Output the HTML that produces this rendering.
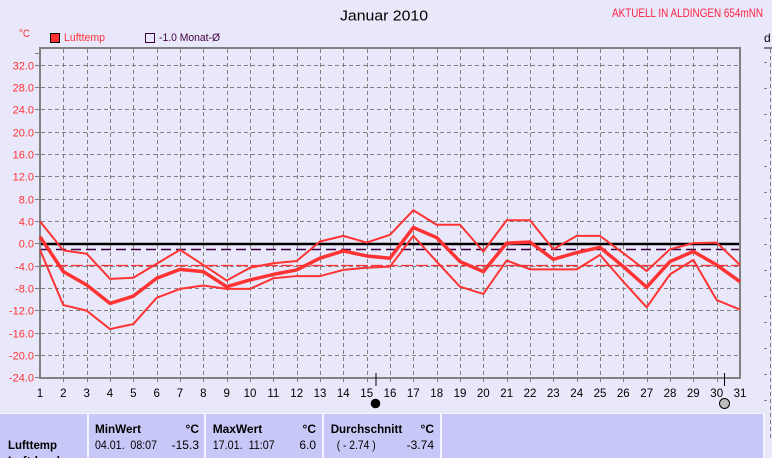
<!DOCTYPE html>
<html><head><meta charset="utf-8"><style>
html,body{margin:0;padding:0;background:#E8E8FA;}
svg{display:block;font-family:"Liberation Sans",sans-serif;}
</style></head><body>
<svg width="772" height="458" viewBox="0 0 772 458" xmlns="http://www.w3.org/2000/svg">
<rect x="0" y="0" width="772" height="458" fill="#E8E8FA"/>
<!-- header -->
<text x="340" y="20.5" font-size="15" fill="#000" textLength="88" lengthAdjust="spacingAndGlyphs">Januar 2010</text>
<text x="612" y="17" font-size="11.5" fill="#FF2040" textLength="151" lengthAdjust="spacingAndGlyphs">AKTUELL IN ALDINGEN 654mNN</text>
<text x="19" y="37" font-size="11" fill="#FF3333" textLength="11" lengthAdjust="spacingAndGlyphs">°C</text>
<rect x="50.5" y="33.5" width="9" height="9" fill="#FF3333" stroke="#000" stroke-width="1"/>
<text x="64" y="41" font-size="11" fill="#FF3333" textLength="41" lengthAdjust="spacingAndGlyphs">Lufttemp</text>
<rect x="145.5" y="33.5" width="9" height="9" fill="none" stroke="#400040" stroke-width="1"/>
<text x="159" y="41" font-size="11" fill="#400040" textLength="61" lengthAdjust="spacingAndGlyphs">-1.0 Monat-Ø</text>

<!-- grid -->
<g stroke="#808080" stroke-width="1" stroke-dasharray="4 3" fill="none">
<path d="M41 65.5H739M41 87.5H739M41 109.5H739M41 132.5H739M41 154.5H739M41 176.5H739M41 199.5H739M41 221.5H739M41 266.5H739M41 288.5H739M41 310.5H739M41 333.5H739M41 355.5H739"/>
<path d="M63.5 49V377M87.5 49V377M110.5 49V377M133.5 49V377M157.5 49V377M180.5 49V377M203.5 49V377M227.5 49V377M250.5 49V377M273.5 49V377M297.5 49V377M320.5 49V377M343.5 49V377M367.5 49V377M390.5 49V377M413.5 49V377M437.5 49V377M460.5 49V377M483.5 49V377M507.5 49V377M530.5 49V377M553.5 49V377M577.5 49V377M600.5 49V377M623.5 49V377M647.5 49V377M670.5 49V377M693.5 49V377M717.5 49V377"/>
</g>
<!-- axis ticks -->
<g stroke="#808080" stroke-width="1">
<path d="M35 53.5H39M35 65.5H39M35 87.5H39M35 109.5H39M35 132.5H39M35 154.5H39M35 176.5H39M35 199.5H39M35 221.5H39M35 243.5H39M35 266.5H39M35 288.5H39M35 310.5H39M35 333.5H39M35 355.5H39M35 377.5H39"/>
<path d="M63.5 379V382M87.5 379V382M110.5 379V382M133.5 379V382M157.5 379V382M180.5 379V382M203.5 379V382M227.5 379V382M250.5 379V382M273.5 379V382M297.5 379V382M320.5 379V382M343.5 379V382M367.5 379V382M390.5 379V382M413.5 379V382M437.5 379V382M460.5 379V382M483.5 379V382M507.5 379V382M530.5 379V382M553.5 379V382M577.5 379V382M600.5 379V382M623.5 379V382M647.5 379V382M670.5 379V382M693.5 379V382M717.5 379V382"/>
</g>
<!-- border -->
<rect x="39" y="47" width="702" height="2" fill="#808080"/>
<rect x="39" y="377" width="702" height="2" fill="#808080"/>
<rect x="39" y="47" width="2" height="332" fill="#808080"/>
<rect x="739" y="47" width="2" height="332" fill="#808080"/>

<!-- reference lines -->
<line x1="41" y1="244" x2="739" y2="244" stroke="#000" stroke-width="2.5"/>
<line x1="41" y1="249.5" x2="739" y2="249.5" stroke="#400040" stroke-width="1.5" stroke-dasharray="10 5"/>
<line x1="41" y1="265.5" x2="739" y2="265.5" stroke="#FF3333" stroke-width="1.2" stroke-dasharray="12 3"/>

<!-- series -->
<g transform="translate(40,243.7) scale(23.333,-5.58)" fill="none" stroke="#FF3333" stroke-linejoin="round">
<polyline vector-effect="non-scaling-stroke" stroke-width="2" points="0,4 1,-1.2 2,-1.8 3,-6.3 4,-6.1 5,-3.6 6,-1.1 7,-3.8 8,-6.6 9,-4.3 10,-3.5 11,-3.1 12,0.4 13,1.4 14,0.2 15,1.6 16,6 17,3.4 18,3.4 19,-1.4 20,4.2 21,4.2 22,-1 23,1.4 24,1.4 25,-1.7 26,-4.9 27,-1 28,0.1 29,0.2 30,-3.8"/>
<polyline vector-effect="non-scaling-stroke" stroke-width="3.5" points="0,1.25 1,-5 2,-7.4 3,-10.7 4,-9.4 5,-6.2 6,-4.6 7,-5 8,-7.7 9,-6.5 10,-5.5 11,-4.7 12,-2.6 13,-1.3 14,-2.2 15,-2.6 16,2.9 17,1.1 18,-3.2 19,-5 20,0.1 21,0.3 22,-2.8 23,-1.6 24,-0.65 25,-4.1 26,-7.8 27,-3.2 28,-1.4 29,-3.8 30,-6.8"/>
<polyline vector-effect="non-scaling-stroke" stroke-width="2" points="0,-1.1 1,-11 2,-12 3,-15.3 4,-14.4 5,-9.7 6,-8.1 7,-7.5 8,-8.1 9,-8.1 10,-6.2 11,-5.8 12,-5.8 13,-4.7 14,-4.3 15,-4.1 16,1.4 17,-3.2 18,-7.7 19,-9 20,-3 21,-4.6 22,-4.6 23,-4.6 24,-2 25,-6.8 26,-11.4 27,-5.5 28,-2.9 29,-10.1 30,-11.8"/>
</g>

<!-- y labels -->
<g font-size="11" fill="#FF3333" text-anchor="end">
<text x="34" y="69.5">32.0</text>
<text x="34" y="91.5">28.0</text>
<text x="34" y="113.5">24.0</text>
<text x="34" y="136.5">20.0</text>
<text x="34" y="158.5">16.0</text>
<text x="34" y="180.5">12.0</text>
<text x="34" y="203.5">8.0</text>
<text x="34" y="225.5">4.0</text>
<text x="34" y="247.5">0.0</text>
<text x="34" y="270.5">-4.0</text>
<text x="34" y="292.5">-8.0</text>
<text x="34" y="314.5">-12.0</text>
<text x="34" y="337.5">-16.0</text>
<text x="34" y="359.5">-20.0</text>
<text x="34" y="381.5">-24.0</text>
</g>
<!-- x labels -->
<g font-size="11.5" fill="#000" text-anchor="middle">
<text x="40" y="397">1</text><text x="63.3" y="397">2</text><text x="86.7" y="397">3</text><text x="110" y="397">4</text><text x="133.3" y="397">5</text><text x="156.7" y="397">6</text><text x="180" y="397">7</text><text x="203.3" y="397">8</text><text x="226.7" y="397">9</text><text x="250" y="397">10</text><text x="273.3" y="397">11</text><text x="296.7" y="397">12</text><text x="320" y="397">13</text><text x="343.3" y="397">14</text><text x="366.7" y="397">15</text><text x="390" y="397">16</text><text x="413.3" y="397">17</text><text x="436.7" y="397">18</text><text x="460" y="397">19</text><text x="483.3" y="397">20</text><text x="506.7" y="397">21</text><text x="530" y="397">22</text><text x="553.3" y="397">23</text><text x="576.7" y="397">24</text><text x="600" y="397">25</text><text x="623.3" y="397">26</text><text x="646.7" y="397">27</text><text x="670" y="397">28</text><text x="693.3" y="397">29</text><text x="716.7" y="397">30</text><text x="740" y="397">31</text>
</g>
<!-- moon markers -->
<line x1="376" y1="373" x2="376" y2="386" stroke="#000" stroke-width="1"/>
<circle cx="375.5" cy="403.5" r="4.8" fill="#000"/>
<line x1="724.5" y1="373" x2="724.5" y2="386" stroke="#000" stroke-width="1"/>
<circle cx="724.5" cy="403.5" r="5" fill="#BDBDBD" stroke="#000" stroke-width="1"/>

<!-- right partial panel -->
<text x="764" y="42" font-size="12" fill="#000">d</text>
<rect x="764" y="47" width="8" height="2" fill="#808080"/>
<line x1="770.5" y1="49" x2="770.5" y2="440" stroke="#808080" stroke-width="1" stroke-dasharray="4 3"/>
<path d="M764 62.5H767M764 88.5H767M764 114.5H767M764 140.5H767M764 166.5H767M764 192.5H767M764 218.5H767M764 244.5H767M764 270.5H767M764 296.5H767M764 322.5H767M764 348.5H767M764 374.5H767M764 400.5H767" stroke="#808080" stroke-width="1"/>

<!-- table -->
<rect x="0" y="413" width="765" height="45" fill="#F4F4FF"/>
<rect x="0" y="414" width="87" height="44" fill="#C8C8F8"/>
<rect x="89" y="414" width="115" height="44" fill="#C8C8F8"/>
<rect x="206" y="414" width="116" height="44" fill="#C8C8F8"/>
<rect x="324" y="414" width="116" height="44" fill="#C8C8F8"/>
<rect x="442" y="414" width="321" height="44" fill="#C8C8F8"/>
<g font-size="12" fill="#000">
<text x="8" y="449" font-weight="bold" textLength="49" lengthAdjust="spacingAndGlyphs">Lufttemp</text>
<text x="8" y="465" font-weight="bold">Luftdruck</text>
<text x="95" y="433" font-weight="bold" textLength="46" lengthAdjust="spacingAndGlyphs">MinWert</text>
<text x="199" y="433" font-weight="bold" text-anchor="end">°C</text>
<text x="95" y="449" xml:space="preserve" textLength="62" lengthAdjust="spacingAndGlyphs">04.01.  08:07</text>
<text x="199" y="449" text-anchor="end">-15.3</text>
<text x="212.7" y="433" font-weight="bold" textLength="49.5" lengthAdjust="spacingAndGlyphs">MaxWert</text>
<text x="316" y="433" font-weight="bold" text-anchor="end">°C</text>
<text x="212.7" y="449" xml:space="preserve" textLength="62" lengthAdjust="spacingAndGlyphs">17.01.  11:07</text>
<text x="316" y="449" text-anchor="end">6.0</text>
<text x="330.7" y="433" font-weight="bold" textLength="71.5" lengthAdjust="spacingAndGlyphs">Durchschnitt</text>
<text x="434" y="433" font-weight="bold" text-anchor="end">°C</text>
<text x="336.7" y="449" xml:space="preserve" textLength="39" lengthAdjust="spacingAndGlyphs">( - 2.74 )</text>
<text x="434" y="449" text-anchor="end">-3.74</text>
</g>
</svg>
</body></html>
